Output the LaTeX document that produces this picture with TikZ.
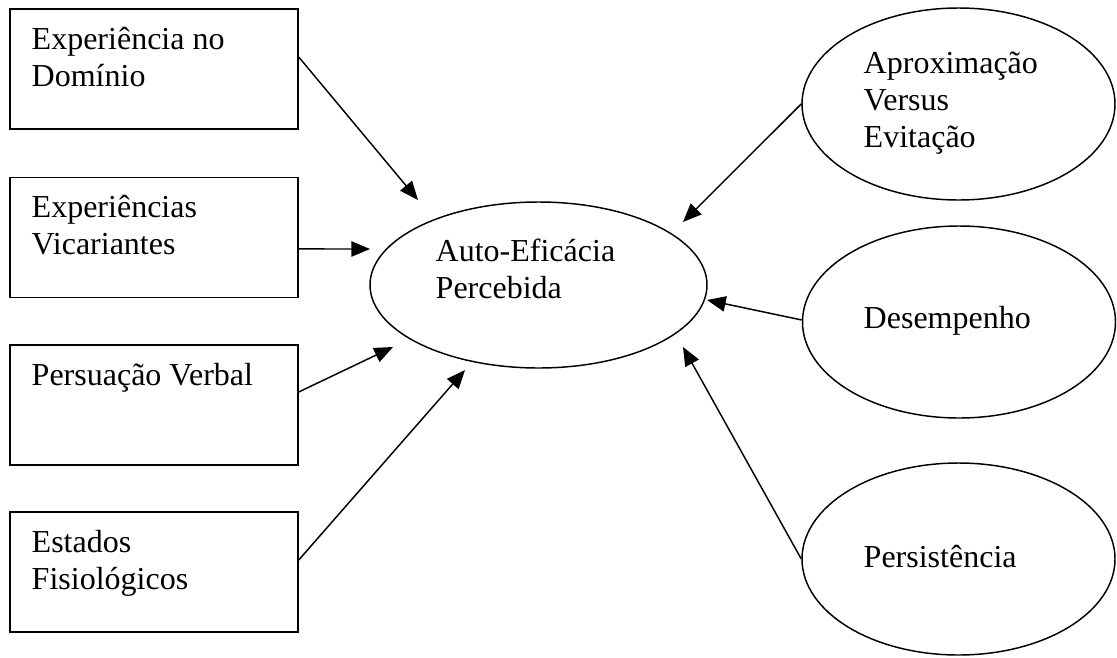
\documentclass[tikz,border=0pt]{standalone}
\usepackage{fontspec}
\setmainfont{Liberation Serif}
\usetikzlibrary{arrows.meta,shapes.geometric}

\begin{document}
\begin{tikzpicture}[x=0.75pt, y=-0.75pt, line width=1.1pt,
  fonte/.style={draw, rectangle, minimum width=216pt, minimum height=90pt, inner sep=0pt},
  efeito/.style={draw, ellipse, minimum width=234.75pt, minimum height=144pt, inner sep=0pt},
  centro/.style={draw, ellipse, minimum width=252.75pt, minimum height=124.5pt, inner sep=0pt},
  texto/.style={anchor=base west, align=left, inner sep=0pt,
    font=\fontsize{24pt}{27.75pt}\selectfont},
  seta/.style={-{Triangle[length=14pt, width=11.5pt]}}]

  \useasboundingbox (0,0) rectangle (1117,657);

  % fontes de auto-eficacia
  \node[fonte] (dom) at (154,69) {};
  \node[fonte] (vic) at (154,237.5) {};
  \node[fonte] (per) at (154,405) {};
  \node[fonte] (fis) at (154,572) {};

  % (base = ultima linha)
  \node[texto] (domT) at (31,86)  {Experiência no\\Domínio};
  \node[texto] (vicT) at (31,254) {Experiências\\Vicariantes};
  \node[texto] (perT) at (31,385) {Persuação Verbal};
  \node[texto] (fisT) at (31,589) {Estados\\Fisiológicos};

  % construto central
  \node[centro] (aef) at (538.5,285) {};
  \node[texto] (aefT) at (435,298) {Auto-Eficácia\\Percebida};

  % consequencias
  \node[efeito] (apr) at (958.5,104) {};
  \node[efeito] (des) at (959,322) {};
  \node[efeito] (pst) at (958.5,559) {};

  \node[texto] (aprT) at (863,147) {Aproximação\\Versus\\Evitação};
  \node[texto] (desT) at (863,328) {Desempenho};
  \node[texto] (pstT) at (863,567) {Persistência};

  % pontas das setas
  \coordinate (t1) at (418,200);
  \coordinate (t2) at (370,249);
  \coordinate (t3) at (393,347);
  \coordinate (t4) at (465,370);
  \coordinate (t5) at (683,222);
  \coordinate (t6) at (707,300);
  \coordinate (t7) at (683,347);

  \draw[seta] ([yshift=9pt]dom.east) -- (t1);
  \draw[seta] ([yshift=-8.6pt]vic.east) -- (t2);
  \draw[seta] ([yshift=9.75pt]per.east) -- (t3);
  \draw[seta] ([yshift=9pt]fis.east) -- (t4);
  \draw[seta] (apr.west) -- (t5);
  \draw[seta] ([yshift=1.5pt]des.west) -- (t6);
  \draw[seta] (pst.west) -- (t7);

\end{tikzpicture}
\end{document}
